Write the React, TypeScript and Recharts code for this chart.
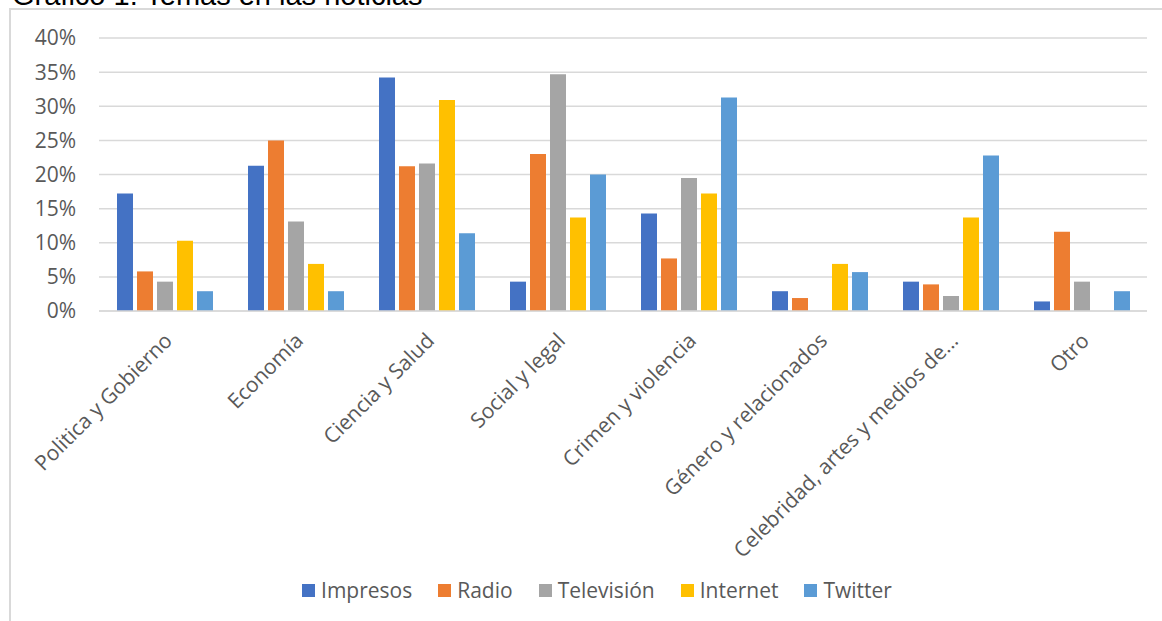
import React from 'react';
import { BarChart, Bar, XAxis, YAxis, CartesianGrid, Legend } from 'recharts';

const categories = [
  'Politica y Gobierno',
  'Economía',
  'Ciencia y Salud',
  'Social y legal',
  'Crimen y violencia',
  'Género y relacionados',
  'Celebridad, artes y medios de...',
  'Otro',
];
const impresos = [17.2, 21.3, 34.2, 4.3, 14.3, 2.9, 4.3, 1.4];
const radio = [5.8, 25.0, 21.2, 23.0, 7.7, 1.9, 3.9, 11.6];
const television = [4.3, 13.1, 21.6, 34.7, 19.5, 0, 2.2, 4.3];
const internet = [10.3, 6.9, 30.9, 13.7, 17.2, 6.9, 13.7, 0];
const twitter = [2.9, 2.9, 11.4, 20.0, 31.3, 5.7, 22.8, 2.9];
const yTicks = [0, 5, 10, 15, 20, 25, 30, 35, 40];
const seriesNames = ['Impresos', 'Radio', 'Televisión', 'Internet', 'Twitter'];
const seriesKeys = ['impresos', 'radio', 'television', 'internet', 'twitter'];
const colors = ['#4472C4', '#ED7D31', '#A5A5A5', '#FFC000', '#5B9BD5'];
const title = 'Gráfico 1: Temas en las noticias';

const data = categories.map((c, i) => ({
  name: c,
  impresos: impresos[i],
  radio: radio[i],
  television: television[i],
  internet: internet[i],
  twitter: twitter[i],
}));

const FONT = '"Open Sans", sans-serif';
const TEXT = '#595959';

const XTick = (props: any) => {
  const { x, y, payload } = props;
  const ax = x + 9;
  const ay = y + 31;
  return (
    <text
      x={ax}
      y={ay}
      textAnchor="end"
      transform={`rotate(-45, ${ax}, ${ay})`}
      fontFamily={FONT}
      fontSize={21}
      fill={TEXT}
    >
      {payload.value}
    </text>
  );
};

const renderLegend = (props: any) => {
  const payload = [...(props.payload || [])].sort(
    (a: any, b: any) => seriesNames.indexOf(a.value) - seriesNames.indexOf(b.value)
  );
  return (
    <div
      style={{
        display: 'flex',
        justifyContent: 'center',
        alignItems: 'center',
        gap: 26,
        fontFamily: FONT,
        fontSize: 21,
        color: TEXT,
        height: 26,
      }}
    >
      {payload.map((p: any, i: number) => (
        <div key={i} style={{ display: 'flex', alignItems: 'center' }}>
          <span
            style={{
              display: 'inline-block',
              width: 13,
              height: 13,
              background: p.color,
              marginRight: 6,
            }}
          />
          <span style={{ lineHeight: '26px' }}>{p.value}</span>
        </div>
      ))}
    </div>
  );
};

export default function App() {
  return (
    <div
      style={{
        position: 'absolute',
        left: 0,
        top: 0,
        width: 1162,
        height: 621,
        overflow: 'hidden',
        background: '#fff',
      }}
    >
      <svg
        width={1162}
        height={30}
        style={{ position: 'absolute', left: 0, top: 0 }}
      >
        <text x={12} y={5} fontFamily='"Liberation Sans", Arial, sans-serif' fontSize={29} fill="#000">
          {title}
        </text>
      </svg>
      <div
        style={{
          position: 'absolute',
          left: 9,
          top: 8,
          width: 1200,
          height: 700,
          borderLeft: '2px solid #d9d9d9',
          borderTop: '2px solid #d9d9d9',
        }}
      />
      <div style={{ position: 'absolute', left: 0, top: 0 }}>
        <BarChart
          width={1162}
          height={621}
          data={data}
          margin={{ top: 38, right: 15, left: 39, bottom: 60 }}
          barSize={16}
          barGap={4}
        >
          <CartesianGrid vertical={false} stroke="#d9d9d9" strokeWidth={1.5} />
          <XAxis
            dataKey="name"
            height={250}
            interval={0}
            tickSize={0}
            tickMargin={0}
            axisLine={{ stroke: '#d9d9d9', strokeWidth: 1.5 }}
            tickLine={false}
            tick={<XTick />}
          />
          <YAxis
            width={60}
            domain={[0, 40]}
            ticks={yTicks}
            interval={0}
            axisLine={false}
            tickLine={false}
            tickSize={0}
            tickMargin={23}
            tickFormatter={(v: number) => `${v}%`}
            tick={{ fill: TEXT, fontFamily: FONT, fontSize: 21 }}
          />
          <Legend
            layout="horizontal"
            verticalAlign="middle"
            align="center"
            content={renderLegend}
            wrapperStyle={{ top: 577, left: 16, width: 1162, height: 26 }}
          />
          {seriesKeys.map((k, i) => (
            <Bar
              key={k}
              dataKey={k}
              name={seriesNames[i]}
              fill={colors[i]}
              isAnimationActive={false}
            />
          ))}
        </BarChart>
      </div>
    </div>
  );
}
